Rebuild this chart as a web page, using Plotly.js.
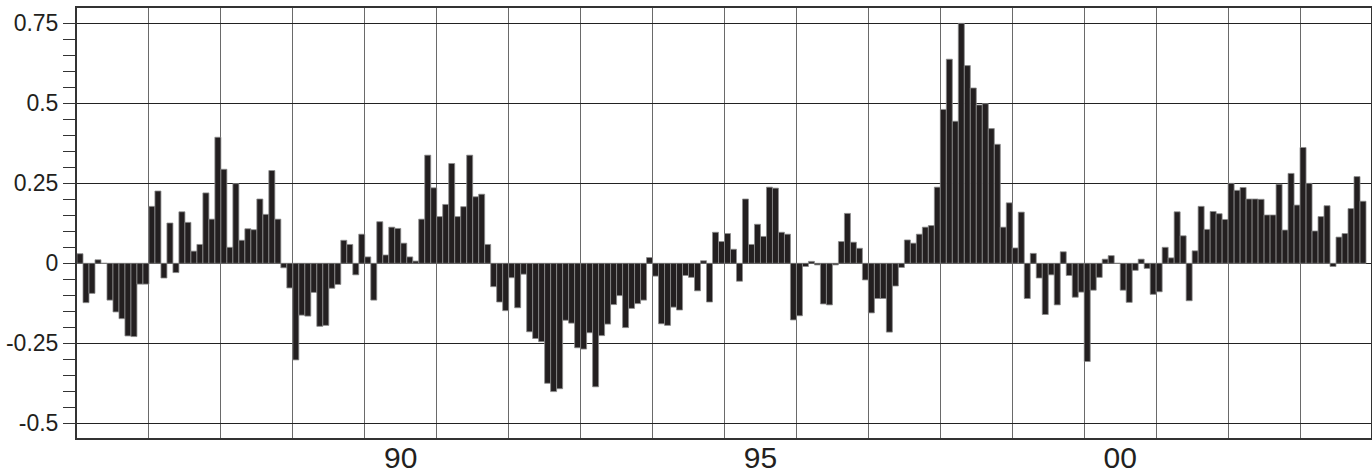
<!DOCTYPE html>
<html><head><meta charset="utf-8">
<script src="https://cdn.plot.ly/plotly-3.0.1.min.js"></script>
<style>html,body{margin:0;padding:0;background:#fff;} #chart{width:1372px;height:475px;}</style>
</head><body><div id="chart"></div>
<script>
const startYear = 1986;
const y1986 = [0.03, -0.123, -0.094, 0.011, 0, -0.115, -0.152, -0.173, -0.227, -0.229, -0.065, -0.065];
const y1987 = [0.178, 0.226, -0.046, 0.126, -0.029, 0.161, 0.128, 0.038, 0.059, 0.22, 0.138, 0.394];
const y1988 = [0.294, 0.05, 0.249, 0.072, 0.108, 0.105, 0.201, 0.153, 0.29, 0.138, -0.014, -0.077];
const y1989 = [-0.302, -0.162, -0.165, -0.091, -0.197, -0.194, -0.078, -0.066, 0.072, 0.059, -0.036, 0.091];
const y1990 = [0.02, -0.115, 0.13, 0.026, 0.113, 0.109, 0.063, 0.02, 0.007, 0.138, 0.338, 0.236];
const y1991 = [0.146, 0.184, 0.312, 0.146, 0.177, 0.338, 0.208, 0.216, 0.059, -0.073, -0.121, -0.148];
const y1992 = [-0.045, -0.139, -0.034, -0.214, -0.235, -0.245, -0.375, -0.401, -0.392, -0.178, -0.187, -0.264];
const y1993 = [-0.268, -0.217, -0.386, -0.226, -0.19, -0.129, -0.101, -0.201, -0.141, -0.126, -0.115, 0.018];
const y1994 = [-0.04, -0.189, -0.194, -0.137, -0.146, -0.038, -0.044, -0.086, 0.008, -0.121, 0.097, 0.068];
const y1995 = [0.093, 0.044, -0.056, 0.201, 0.059, 0.122, 0.084, 0.238, 0.235, 0.097, 0.091, -0.177];
const y1996 = [-0.164, -0.01, 0.006, -0.005, -0.127, -0.13, -0.005, 0.068, 0.156, 0.066, 0.047, -0.052];
const y1997 = [-0.155, -0.11, -0.11, -0.215, -0.071, -0.013, 0.073, 0.063, 0.091, 0.113, 0.118, 0.238];
const y1998 = [0.481, 0.638, 0.444, 0.75, 0.618, 0.548, 0.495, 0.499, 0.421, 0.372, 0.113, 0.189];
const y1999 = [0.048, 0.16, -0.11, 0.031, -0.046, -0.16, -0.036, -0.13, 0.036, -0.038, -0.106, -0.09];
const y2000 = [-0.307, -0.084, -0.044, 0.013, 0.024, 0, -0.084, -0.122, -0.022, 0.013, -0.016, -0.097];
const y2001 = [-0.089, 0.05, 0.017, 0.161, 0.086, -0.117, 0.039, 0.178, 0.106, 0.162, 0.155, 0.137];
const y2002 = [0.25, 0.228, 0.237, 0.201, 0.201, 0.2, 0.151, 0.151, 0.247, 0.104, 0.281, 0.182];
const y2003 = [0.362, 0.25, 0.101, 0.146, 0.18, -0.01, 0.082, 0.093, 0.171, 0.271, 0.194];

const yearlyValues = [y1986, y1987, y1988, y1989, y1990, y1991, y1992, y1993, y1994,
  y1995, y1996, y1997, y1998, y1999, y2000, y2001, y2002, y2003];

const xTickYears = [1990, 1995, 2000];
const xTickLabels = ['90', '95', '00'];
const yTickValues = [-0.5, -0.25, 0, 0.25, 0.5, 0.75];
const yTickLabels = ['-0.5', '-0.25', '0', '0.25', '0.5', '0.75'];

const xs = [], ys = [];
yearlyValues.forEach((arr, yi) => arr.forEach((v, m) => {
  xs.push(startYear + yi + (m + 0.5) / 12);
  ys.push(v);
}));

const fontFam = '"Liberation Sans Narrow", "Arial Narrow", "Liberation Sans", Arial, sans-serif';

const trace = {
  type: 'bar', x: xs, y: ys, width: 1 / 12,
  marker: { color: '#231f20', line: { color: '#8c8c8c', width: 0.8 } },
  hoverinfo: 'x+y'
};

const layout = {
  width: 1372, height: 475,
  margin: { l: 77, r: 1, t: 8, b: 37, pad: 0 },
  paper_bgcolor: '#ffffff', plot_bgcolor: '#ffffff',
  showlegend: false, bargap: 0,
  font: { family: fontFam, color: '#231f20' },
  xaxis: {
    range: [1986, 2003.986],
    tickmode: 'array',
    tickvals: xTickYears.map(v => v + 0.5),
    ticktext: xTickLabels,
    ticks: '', showgrid: false, zeroline: false,
    tickfont: { family: fontFam, size: 30, color: '#231f20' },
    ticklabelstandoff: -8,
    showline: true, mirror: true, linecolor: '#333', linewidth: 2,
    minor: { tick0: 1986, dtick: 1, showgrid: true, gridcolor: '#6a6a6a', gridwidth: 1, ticks: '' }
  },
  yaxis: {
    range: [-0.546, 0.798],
    tickmode: 'array',
    tickvals: yTickValues, ticktext: yTickLabels,
    ticks: 'outside', ticklen: 12, tickwidth: 1, tickcolor: '#333',
    showgrid: true, gridcolor: '#222', gridwidth: 1,
    zeroline: false,
    tickfont: { family: fontFam, size: 23, color: '#231f20' },
    ticklabelstandoff: 0,
    showline: true, mirror: true, linecolor: '#333', linewidth: 2,
    minor: { tick0: 0, dtick: 0.05, ticks: 'outside', ticklen: 12, tickwidth: 1, tickcolor: '#333', showgrid: false }
  }
};

Plotly.newPlot('chart', [trace], layout, { displayModeBar: false, staticPlot: true });
</script>
</body></html>
